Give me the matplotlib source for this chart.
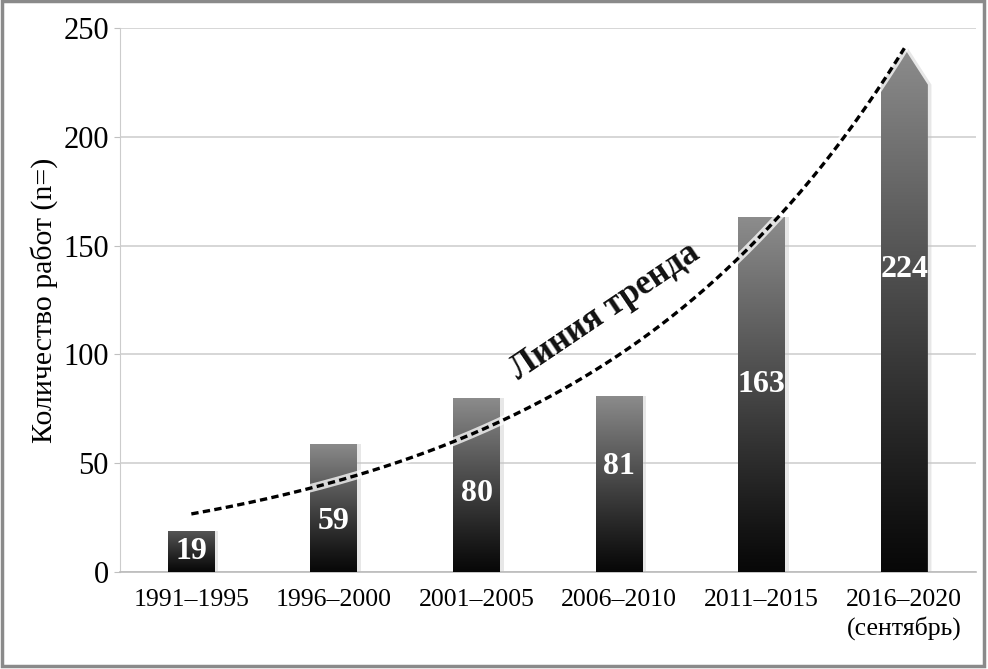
import numpy as np
import matplotlib
matplotlib.use("Agg")
import matplotlib.pyplot as plt
from matplotlib.patches import Polygon, Rectangle

categories = ["1991–1995", "1996–2000", "2001–2005", "2006–2010", "2011–2015",
              "2016–2020\n(сентябрь)"]
values = [19, 59, 80, 81, 163, 224]
label_frac = [0.50, 0.39, 0.45, 0.60, 0.53, 0.62]
yticks = [0, 50, 100, 150, 200, 250]
ylabel = "Количество работ (n=)"
trend_label = "Линия тренда"

plt.rcParams['font.family'] = ['Liberation Serif', 'DejaVu Serif']

fig = plt.figure(figsize=(9.88, 6.69), dpi=100)
ax = fig.add_axes([0.1215, 0.145, 0.866, 0.813])

x = np.arange(len(values))
# exponential trend fitted to the data
b, loga = np.polyfit(x, np.log(values), 1)
xs = np.linspace(0, len(values) - 1, 200)
trend = np.exp(loga) * np.exp(b * xs)
tip = np.exp(loga) * np.exp(b * x[-1])

width = 0.33
grad = np.linspace(0, 1, 256).reshape(-1, 1)

for i, (xi, v) in enumerate(zip(x, values)):
    l, r = xi - width / 2, xi + width / 2
    if i == len(values) - 1:
        verts = [(l, 0), (r, 0), (r, v), (xi, tip), (l, v)]
        top = tip
    else:
        verts = [(l, 0), (r, 0), (r, v), (l, v)]
        top = v
    sh = Polygon([(px + 0.025, py) for px, py in verts], closed=True,
                 facecolor='#c4c4c4', edgecolor='none', alpha=0.4, zorder=2)
    ax.add_patch(sh)
    poly = Polygon(verts, closed=True, facecolor='none', edgecolor='none', zorder=3)
    ax.add_patch(poly)
    topg = 0.25 + 0.30 * min(1.0, v / 60)
    g = 0.03 + (topg - 0.03) * grad ** 1.1
    img = ax.imshow(np.dstack([g, g, g]), extent=[l, r, 0, top], origin='lower',
                    aspect='auto', zorder=3, interpolation='bilinear')
    img.set_clip_path(poly)
    ax.text(xi, v * label_frac[i], str(v), ha='center', va='center', color='white',
            fontsize=23, fontweight='bold', zorder=6)

ax.plot(xs, trend, color='white', lw=6, alpha=0.75, zorder=4, solid_capstyle='round')
ax.plot(xs, trend, color='black', lw=2.4, ls=(0, (2.2, 1.3)), zorder=5)

ax.text(2.90, 119.5, trend_label, rotation=34, ha='center', va='center',
        fontsize=25, fontweight='bold', color='#111111', zorder=6,
        rotation_mode='anchor')

ax.set_xlim(-0.5, len(values) - 0.5)
ax.set_ylim(0, 250)
ax.set_yticks(yticks)
ax.set_xticks(x)
ax.set_xticklabels(categories, fontsize=18.5, linespacing=1.3)
ax.tick_params(axis='y', labelsize=22, length=4, color='#c0c0c0', pad=4)
ax.tick_params(axis='x', length=0, pad=12)
ax.set_ylabel(ylabel, fontsize=21.5, labelpad=4)
ax.grid(axis='y', color='#cfcfcf', lw=1.2, zorder=0)
ax.set_axisbelow(True)
for s in ['top', 'right']:
    ax.spines[s].set_visible(False)
ax.spines['left'].set_color('#cccccc')
ax.spines['bottom'].set_color('#bbbbbb')
ax.spines['bottom'].set_linewidth(1.2)

fig.patches.append(Rectangle((0.002, 0.004), 0.994, 0.994, transform=fig.transFigure,
                             fill=False, edgecolor='#8a8a8a', lw=2.5))

fig.savefig("out.png", dpi=100)
